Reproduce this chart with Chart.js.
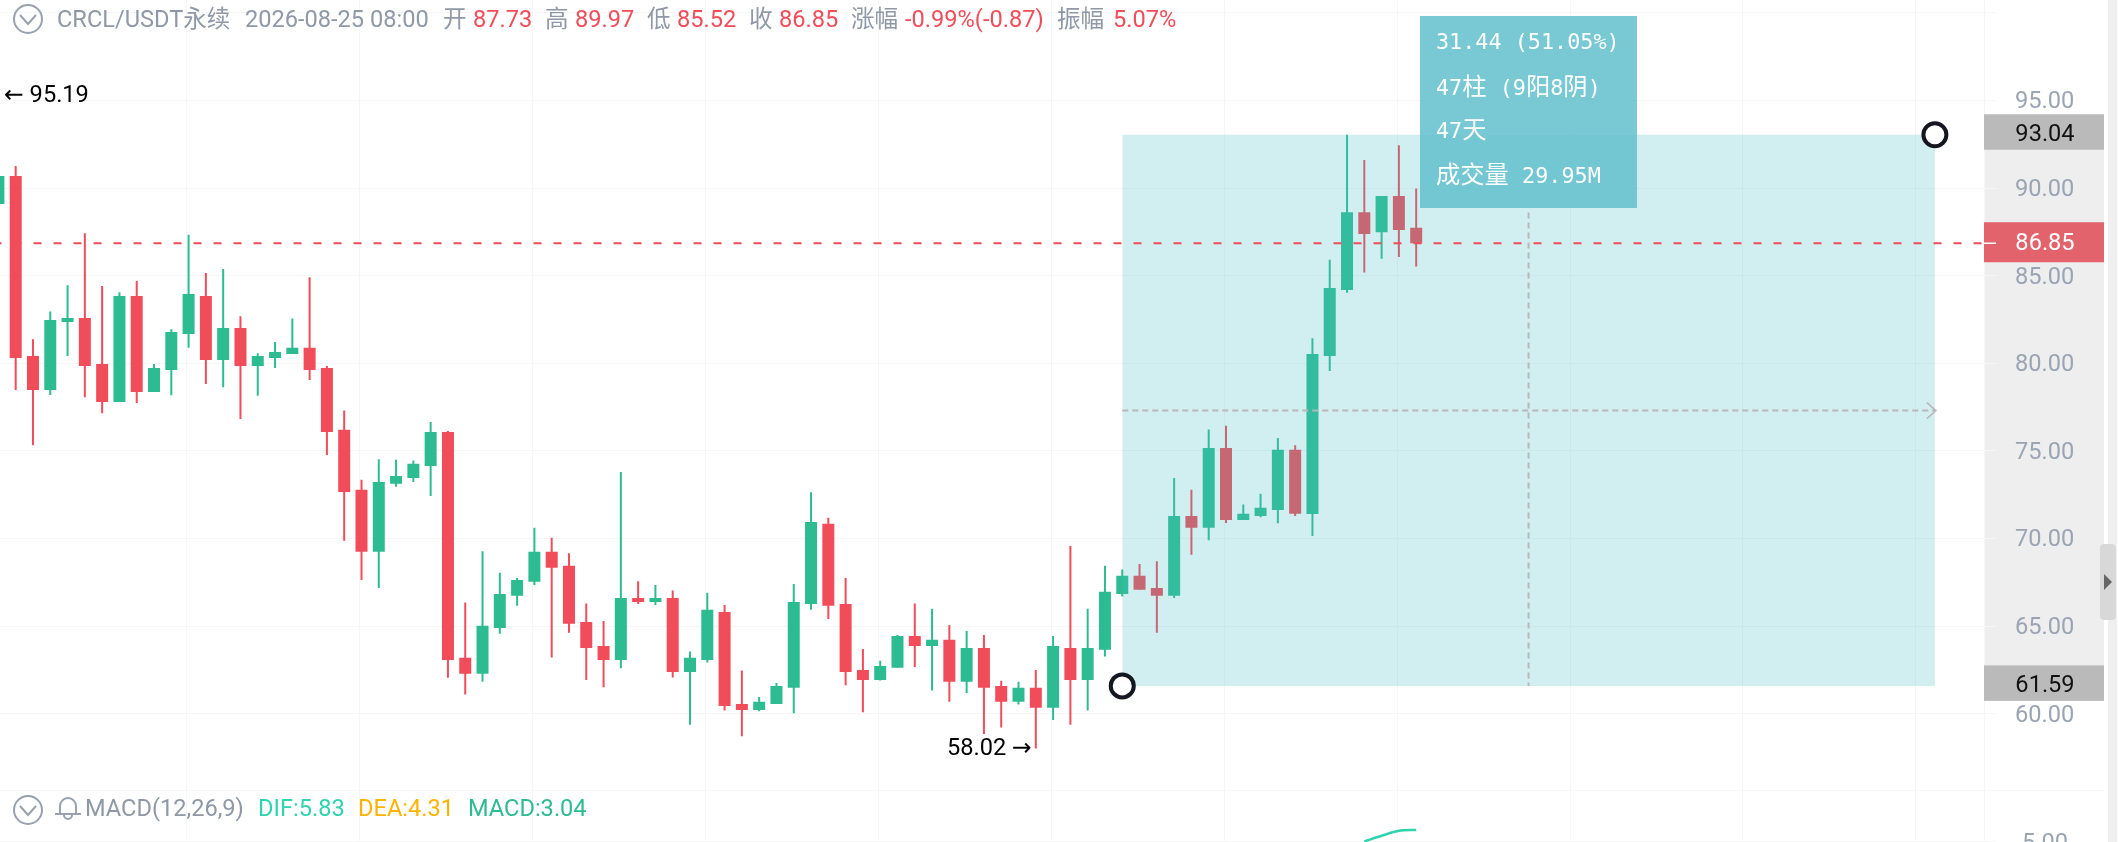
<!DOCTYPE html>
<html>
<head>
<meta charset="utf-8">
<title>CRCL/USDT</title>
<script src="https://cdn.jsdelivr.net/npm/chart.js@4"></script>
<style>
  html, body { margin: 0; padding: 0; background: #fff; overflow: hidden; }
  #wrap { position: relative; width: 2118px; height: 842px; overflow: hidden; }
  canvas { position: absolute; left: 0; top: 0; }
  .t { position: absolute; font: 23.6px Roboto, "Noto Sans CJK SC", sans-serif; line-height: 38px; white-space: nowrap; color: #8f98a6; }
  .r { color: #f04c5a; }
  #info { position: absolute; left: 1420px; top: 16px; width: 217px; height: 192px; background: rgba(98,192,204,.85); }
  #info div { position: absolute; left: 16px; color: #fff; font: 21.8px "DejaVu Sans Mono", "Noto Sans CJK SC", monospace; line-height: 30px; white-space: pre; }
  #info b { font: 24.3px "Noto Sans CJK SC", sans-serif; }
  svg { position: absolute; }
</style>
</head>
<body>
<div id="wrap">
  <canvas id="mycanvas" width="2118" height="842"></canvas>

  <svg style="left:12px;top:3px" width="32" height="32" fill="none" stroke="#98a1ae" stroke-width="2"><circle cx="16" cy="16" r="14"/><path d="M8 12l8 9 8-9"/></svg>
  <span class="t" style="left:57px;top:0">CRCL/USDT永续</span>
  <span class="t" style="left:245px;top:0">2026-08-25 08:00</span>
  <span class="t" style="left:443px;top:0">开</span><span class="t r" style="left:473px;top:0">87.73</span>
  <span class="t" style="left:545px;top:0">高</span><span class="t r" style="left:575px;top:0">89.97</span>
  <span class="t" style="left:647px;top:0">低</span><span class="t r" style="left:677px;top:0">85.52</span>
  <span class="t" style="left:749px;top:0">收</span><span class="t r" style="left:779px;top:0">86.85</span>
  <span class="t" style="left:851px;top:0">涨幅</span><span class="t r" style="left:905px;top:0">-0.99%(-0.87)</span>
  <span class="t" style="left:1057px;top:0">振幅</span><span class="t r" style="left:1113px;top:0">5.07%</span>

  <svg style="left:12px;top:794px" width="32" height="32" fill="none" stroke="#98a1ae" stroke-width="2"><circle cx="16" cy="16" r="14"/><path d="M8 12l8 9 8-9"/></svg>
  <svg style="left:54px;top:795px" width="28" height="26" fill="none" stroke="#98a1ae" stroke-width="2"><path d="M6 18V11a8 8 0 0 1 16 0v7"/><path d="M1 19h26"/><path d="M10 20a4 4 0 0 0 8 0"/></svg>
  <span class="t" style="left:85px;top:789px">MACD(12,26,9)</span>
  <span class="t" style="left:258px;top:789px;color:#2ed3b0">DIF:5.83</span>
  <span class="t" style="left:358px;top:789px;color:#ffb300">DEA:4.31</span>
  <span class="t" style="left:468px;top:789px;color:#2dbc91">MACD:3.04</span>

  <div id="info">
    <div style="top:11px">31.44 (51.05%)</div>
    <div style="top:51px">47<b>柱</b> (9<b>阳</b>8<b>阴</b>)</div>
    <div style="top:94px">47<b>天</b></div>
    <div style="top:139px"><b>成交量</b> 29.95M</div>
  </div>
</div>

<script>
var opens = [89.09,90.69,80.42,78.48,82.36,82.59,79.96,77.79,83.84,78.36,
  79.62,81.67,83.84,80.19,82.02,79.85,80.30,80.53,80.88,79.73,
  76.20,72.78,69.24,73.12,73.46,74.14,76.08,63.19,62.28,64.90,
  66.73,67.53,69.24,68.44,65.24,63.87,63.07,66.61,66.38,66.61,
  62.39,63.07,65.81,60.56,60.22,60.56,61.48,66.27,70.84,66.27,
  62.50,61.93,62.62,64.44,63.87,64.22,61.82,63.76,61.59,60.68,
  61.48,60.34,63.76,61.93,63.65,66.84,67.87,67.18,66.73,71.29,
  70.61,75.17,71.06,71.29,71.63,75.06,71.40,80.41,84.18,88.62,
  87.48,89.54,87.73];
var highs = [90.69,91.26,81.37,82.95,84.45,87.42,84.41,84.05,84.70,79.96,
  81.94,87.34,85.15,85.38,82.68,80.57,81.22,82.55,84.91,79.85,
  77.30,73.35,74.52,74.49,74.45,76.65,76.14,66.35,69.28,68.04,
  67.75,70.61,70.04,69.16,66.29,65.30,73.80,67.56,67.35,67.03,
  63.55,66.90,66.21,62.47,60.95,61.76,67.41,72.64,71.18,67.75,
  63.70,63.02,64.50,66.29,65.99,65.07,64.73,64.50,61.88,61.82,
  62.50,64.44,69.58,65.99,68.44,68.23,68.55,68.70,73.46,72.79,
  76.22,76.43,71.94,72.55,75.74,75.32,81.43,85.91,93.04,91.60,
  89.54,92.44,89.97];
var lows = [89.09,78.48,75.32,78.19,80.42,78.06,77.15,77.79,77.74,78.36,
  78.17,80.89,78.82,78.63,76.82,78.15,79.73,80.53,79.05,74.77,
  69.88,67.64,67.18,72.95,73.23,72.43,62.05,61.10,61.82,64.56,
  66.16,67.35,63.21,64.62,61.93,61.52,62.60,66.27,66.21,62.07,
  59.37,62.92,60.18,58.72,60.15,60.56,60.03,65.93,65.41,61.63,
  60.09,61.90,62.62,62.67,61.33,60.68,61.19,58.85,59.21,60.53,
  58.02,59.65,59.37,60.18,63.27,66.69,67.07,64.63,66.61,69.07,
  69.90,70.89,71.06,71.22,70.87,71.29,70.14,79.56,84.02,85.18,
  85.96,86.06,85.52];
var closes = [90.69,80.30,78.48,82.47,82.59,79.85,77.79,83.84,78.36,79.73,
  81.79,83.96,80.19,82.02,79.85,80.42,80.65,80.88,79.62,76.08,
  72.66,69.24,73.23,73.57,74.26,76.08,63.07,62.28,65.02,66.84,
  67.64,69.24,68.33,65.13,63.76,63.07,66.61,66.38,66.61,62.39,
  63.19,65.93,60.45,60.22,60.68,61.59,66.38,70.95,66.16,62.39,
  61.93,62.73,64.44,63.87,64.22,61.82,63.76,61.48,60.68,61.48,
  60.34,63.87,61.93,63.76,66.96,67.87,67.07,66.73,71.29,70.61,
  75.17,71.06,71.41,71.75,75.06,71.41,80.53,84.30,88.62,87.38,
  89.54,87.61,86.85];

var difX = [79, 80, 81, 82];
var difValues = [5.02, 5.42, 5.77, 5.83];

var priceTicks = [100, 95, 90, 85, 80, 75, 70, 65, 60];
var macdTicks = [5];
var timeTicks = [10.9, 20.9, 30.9, 40.9, 50.9, 60.9, 70.9, 80.9, 90.9, 100.9, 110.9];

var lastPrice = 86.85;
var selBars = [65, 112];
var selPrices = [61.59, 93.04];
var selMidPrice = 77.3;
var selMidBar = 88.5;
var selMidTop = 88.6;

var GREEN = '#2dbc91', RED = '#f04c5a', GRID = '#f6f6f6';

var barColors = closes.map(function(c, i) { return c >= opens[i] ? GREEN : RED; });
var wicks = highs.map(function(h, i) { return { x: i, y: [lows[i], h] }; });
var bodies = closes.map(function(c, i) { return { x: i, y: [opens[i], c] }; });

// things that sit on the price axis and the odd labels
var extras = {
  id: 'extras',
  beforeDraw: function(chart) {
    var c = chart.ctx, y = chart.scales.y;
    c.save();
    c.fillStyle = '#eeeeee';
    c.fillRect(1984, y.getPixelForValue(selPrices[1]), 120, y.getPixelForValue(selPrices[0]) - y.getPixelForValue(selPrices[1]));
    c.fillStyle = '#efefef';
    c.fillRect(2108, 0, 9, 842);
    c.restore();
  },
  afterDraw: function(chart) {
    var c = chart.ctx, y = chart.scales.y, x = chart.scales.x;
    c.save();

    c.strokeStyle = GRID;
    c.lineWidth = 1;
    c.beginPath();
    c.moveTo(0, y.bottom);
    c.lineTo(2104, y.bottom);
    c.stroke();

    c.font = '23.6px Roboto';
    c.textAlign = 'center';
    c.textBaseline = 'middle';
    selPrices.forEach(function(p) {
      var py = y.getPixelForValue(p);
      c.fillStyle = '#bababa';
      c.fillRect(1984, py - 20.5, 120, 35.5);
      c.fillStyle = '#111';
      c.fillText(p.toFixed(2), 2045, py + 0.5);
    });
    var ly = y.getPixelForValue(lastPrice);
    c.fillStyle = '#e2636b';
    c.fillRect(1984, ly - 21, 120, 40);
    c.strokeStyle = '#fff';
    c.lineWidth = 1.5;
    c.beginPath();
    c.moveTo(1984, ly);
    c.lineTo(1996, ly);
    c.stroke();
    c.fillStyle = '#fff';
    c.fillText(lastPrice.toFixed(2), 2045, ly + 0.5);

    // arrow head on the middle line
    var ax = x.getPixelForValue(selBars[1]), ay = y.getPixelForValue(selMidPrice);
    c.strokeStyle = '#b8b8b8';
    c.lineWidth = 1.5;
    c.beginPath();
    c.moveTo(ax - 8, ay - 8);
    c.lineTo(ax + 1, ay);
    c.lineTo(ax - 8, ay + 8);
    c.stroke();

    c.font = '23.6px Roboto, "DejaVu Sans"';
    c.fillStyle = '#000';
    c.textAlign = 'left';
    c.fillText('← 95.19', 4, 96);
    c.textAlign = 'right';
    c.fillText('58.02 →', x.getPixelForValue(60) - 4, y.getPixelForValue(58.02) + 1);

    // scroll handle
    c.fillStyle = '#d8d8d8';
    c.beginPath();
    c.roundRect(2100, 544, 16, 76, 4);
    c.fill();
    c.fillStyle = '#666';
    c.beginPath();
    c.moveTo(2104, 574);
    c.lineTo(2112, 582);
    c.lineTo(2104, 590);
    c.fill();
    c.restore();
  }
};

// stacked right axes: fixed width, no label padding at the pane edges
function fitRightAxis(s) {
  s.width = 134;
  s.paddingTop = 0;
  s.paddingBottom = 0;
  // tick text sits 2px lower than canvas 'middle' puts it
  if (!s.nudged) {
    var items = s._computeLabelItems;
    s._computeLabelItems = function(area) {
      return items.call(this, area).map(function(it) {
        it.options.translation[1] += 2;
        return it;
      });
    };
    s.nudged = true;
  }
}

var ctx = document.getElementById('mycanvas').getContext('2d');

new Chart(ctx, {
  type: 'bar',
  plugins: [extras],
  data: {
    datasets: [
      { label: 'wick', data: wicks, backgroundColor: barColors, barThickness: 2, grouped: false, order: 6, inflateAmount: 0, xAxisID: 'x', yAxisID: 'y' },
      { label: 'body', data: bodies, backgroundColor: barColors, barThickness: 12, grouped: false, order: 5, inflateAmount: 0, xAxisID: 'x', yAxisID: 'y' },
      { type: 'line', label: 'range', data: [{ x: selBars[0], y: selPrices[1] }, { x: selBars[1], y: selPrices[1] }],
        fill: { value: selPrices[0] }, backgroundColor: 'rgba(70,187,195,.25)', borderWidth: 0, pointRadius: 0, order: 4, yAxisID: 'y' },
      { type: 'line', label: 'mid h', data: [{ x: selBars[0], y: selMidPrice }, { x: selBars[1], y: selMidPrice }],
        borderColor: '#b8b8b8', borderWidth: 2, borderDash: [6, 4], pointRadius: 0, fill: false, order: 3, yAxisID: 'y' },
      { type: 'line', label: 'mid v', data: [{ x: selMidBar, y: selMidTop }, { x: selMidBar, y: selPrices[0] }],
        borderColor: '#b8b8b8', borderWidth: 2, borderDash: [6, 4], pointRadius: 0, fill: false, order: 3, yAxisID: 'y' },
      { type: 'line', label: 'last', data: [{ x: -0.283, y: lastPrice }, { x: 115, y: lastPrice }],
        borderColor: RED, borderWidth: 2, borderDash: [8, 12], pointRadius: 0, fill: false, order: 2, yAxisID: 'y' },
      { type: 'scatter', label: 'handles', data: [{ x: selBars[0], y: selPrices[0] }, { x: selBars[1], y: selPrices[1] }],
        pointRadius: 11.5, borderWidth: 4, pointBorderColor: '#14171f', pointBackgroundColor: '#fff', clip: false, order: 1, yAxisID: 'y' },
      { type: 'line', label: 'DIF', data: difX.map(function(v, i) { return { x: v, y: difValues[i] }; }),
        borderColor: '#2ed3b0', borderWidth: 2.5, pointRadius: 0, tension: 0.3, fill: false, order: 1, yAxisID: 'macd' }
    ]
  },
  options: {
    responsive: false,
    animation: false,
    events: [],
    devicePixelRatio: 1,
    layout: { autoPadding: false, padding: 0 },
    plugins: { legend: { display: false }, tooltip: { enabled: false } },
    scales: {
      x: {
        type: 'linear',
        offset: false,
        min: 0.0925,
        max: 114.84,
        afterBuildTicks: function(s) { s.ticks = timeTicks.map(function(v) { return { value: v }; }); },
        afterFit: function(s) { s.height = 0; },
        ticks: { display: false },
        border: { display: false },
        grid: { color: GRID, drawTicks: false, offset: false }
      },
      y: {
        type: 'linear',
        position: 'right',
        stack: 'right',
        stackWeight: 790.7,
        min: 55.61,
        max: 100.73,
        afterBuildTicks: function(s) { s.ticks = priceTicks.map(function(v) { return { value: v }; }); },
        afterFit: fitRightAxis,
        border: { color: GRID },
        grid: { color: GRID, tickColor: GRID, tickLength: 12 },
        ticks: {
          autoSkip: false,
          crossAlign: 'center',
          padding: 19,
          color: '#9aa4b2',
          font: { family: 'Roboto', size: 23.6 },
          callback: function(v) { return v === 100 ? '' : v.toFixed(2); }
        }
      },
      macd: {
        type: 'linear',
        position: 'right',
        stack: 'right',
        stackWeight: 51.3,
        min: 4.98,
        max: 8.6,
        afterBuildTicks: function(s) { s.ticks = macdTicks.map(function(v) { return { value: v }; }); },
        afterFit: fitRightAxis,
        border: { color: GRID },
        grid: { color: GRID, tickColor: GRID, tickLength: 12 },
        ticks: {
          autoSkip: false,
          crossAlign: 'center',
          padding: 26,
          color: '#9aa4b2',
          font: { family: 'Roboto', size: 23.6 },
          callback: function(v) { return v.toFixed(2); }
        }
      }
    }
  }
});
</script>
</body>
</html>
